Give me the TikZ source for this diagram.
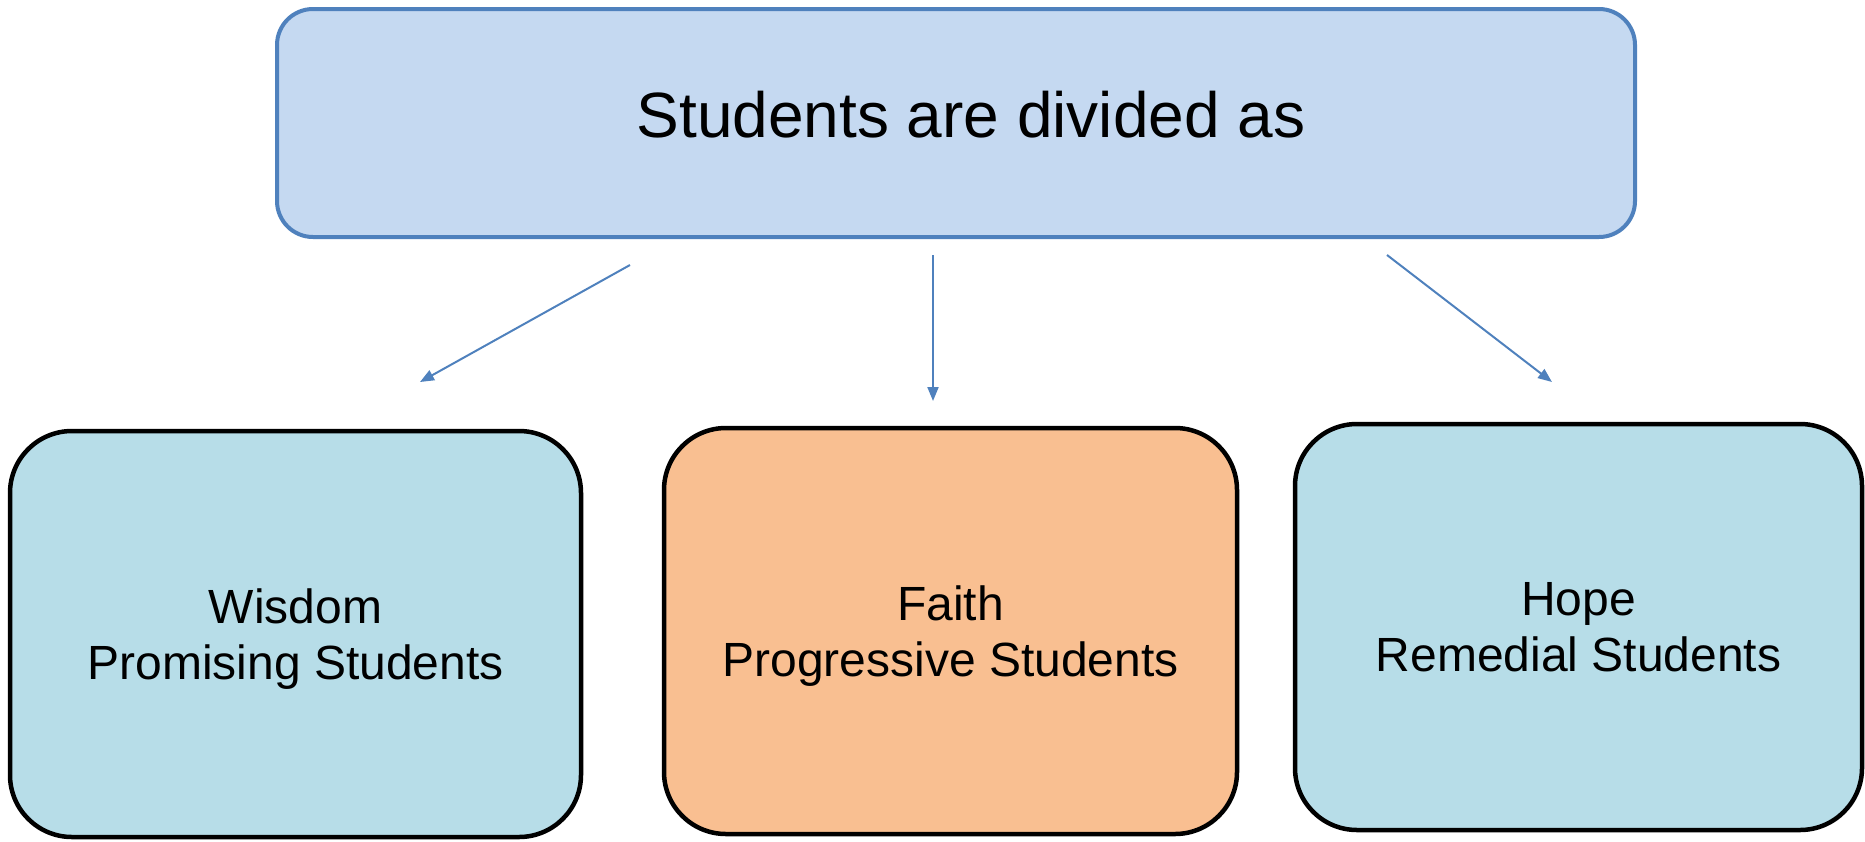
\documentclass[tikz,border=0pt]{standalone}
\usepackage{fontspec}
\setmainfont{Liberation Sans}
\usetikzlibrary{arrows.meta}
\definecolor{topfill}{HTML}{C5D9F1}
\definecolor{topline}{HTML}{4F81BD}
\definecolor{bluefill}{HTML}{B7DDE8}
\definecolor{orangefill}{HTML}{F9BF91}
\definecolor{arrowcol}{HTML}{4F81BD}
\tikzset{
  topbox/.style={draw=topline, fill=topfill, line width=4pt, rounded corners=36pt, inner sep=0pt},
  catbox/.style={draw=black, line width=4.5pt, rounded corners=62pt, inner sep=0pt, align=center,
    text depth=0pt, font=\fontsize{48}{56}\selectfont},
  conn/.style={draw=arrowcol, line width=2pt, -{Triangle[length=14pt,width=11pt]}}
}
\begin{document}
\begin{tikzpicture}[x=1pt,y=-1pt]
\useasboundingbox (0,0) rectangle (1865,841);
\node[topbox, minimum width=1358pt, minimum height=228pt] (top) at (956,123) {};
\node[font=\fontsize{64}{76}\selectfont] (toplabel) at (971,115) {Students are divided as};
\node[catbox, fill=bluefill, minimum width=571pt, minimum height=406pt] (wisdom) at (295.5,634) {Wisdom\\Promising Students};
\node[catbox, fill=orangefill, minimum width=573pt, minimum height=406pt] (faith) at (950.5,631) {Faith\\Progressive Students};
\node[catbox, fill=bluefill, minimum width=567pt, minimum height=406pt] (hope) at (1578.5,627) {Hope\\Remedial Students};
\coordinate (s1) at (630,265);
\coordinate (e1) at (420,382);
\coordinate (s2) at (933,255);
\coordinate (e2) at (933,401);
\coordinate (s3) at (1387,255);
\coordinate (e3) at (1552,382);
\draw[conn] (s1) -- (e1);
\draw[conn] (s2) -- (e2);
\draw[conn] (s3) -- (e3);
\end{tikzpicture}
\end{document}
